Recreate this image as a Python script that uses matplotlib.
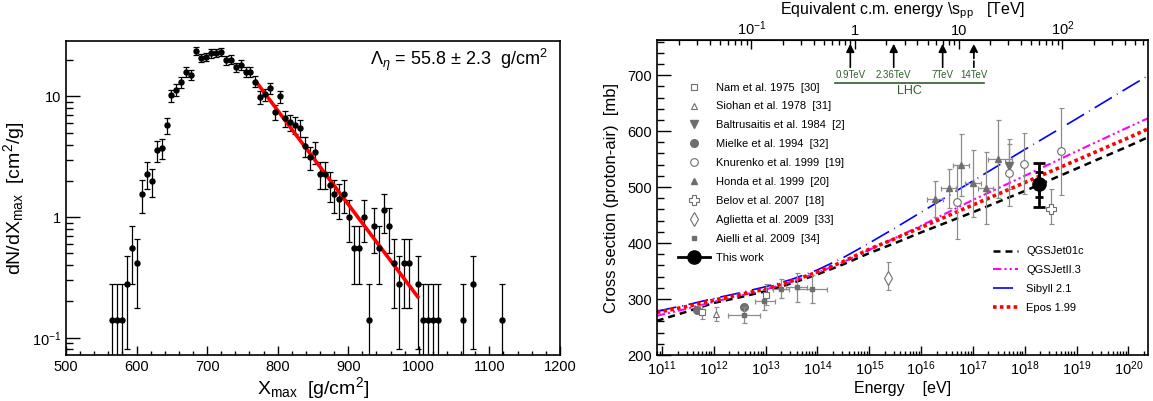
import numpy as np
import matplotlib
matplotlib.use('Agg')
import matplotlib.pyplot as plt
from matplotlib.lines import Line2D
from matplotlib.ticker import (FixedLocator, FixedFormatter, MultipleLocator,
                               LogLocator, NullFormatter)

plt.rcParams['font.family'] = ['Liberation Sans', 'DejaVu Sans']
plt.rcParams['mathtext.fontset'] = 'custom'
plt.rcParams['mathtext.rm'] = 'Liberation Sans'
plt.rcParams['mathtext.it'] = 'Liberation Sans:italic'
plt.rcParams['mathtext.bf'] = 'Liberation Sans:bold'

# ---- left panel: Xmax distribution ----
xmax_bin = [565.5, 572.5, 579.5, 586.5, 593.5, 600.5, 607.5, 614.5, 621.5, 628.5,
            635.5, 642.5, 649.5, 656.5, 663.5, 670.5, 677.5, 684.5, 691.5, 698.5,
            705.5, 712.5, 719.5, 726.5, 733.5, 740.5, 747.5, 754.5, 761.5, 768.5,
            775.5, 782.5, 789.5, 796.5, 803.5, 810.5, 817.5, 824.5, 831.5, 838.5,
            845.5, 852.5, 859.5, 866.5, 873.5, 880.5, 887.5, 894.5, 901.5, 908.5,
            915.5, 922.5, 929.5, 936.5, 943.5, 950.5, 957.5, 964.5, 971.5, 978.5,
            985.5, 999.5, 1006.5, 1013.5, 1020.5, 1027.5, 1062.5, 1076.5, 1118.5]
dndx = [0.14, 0.14, 0.14, 0.28, 0.56, 0.42, 1.56, 2.29, 1.99, 3.58,
        3.74, 5.77, 10.2, 11.4, 13.1, 16.0, 15.2, 24.0, 20.9, 21.3,
        22.8, 23.1, 23.3, 20.1, 20.2, 17.5, 18.3, 16.1, 16.1, 13.3,
        9.85, 10.4, 11.7, 7.4, 10.0, 6.6, 6.1, 5.8, 5.48, 3.91,
        3.15, 3.46, 2.27, 2.29, 1.86, 1.56, 1.42, 1.56, 1.0, 0.56,
        0.56, 1.0, 0.14, 0.85, 0.56, 1.14, 0.85, 0.42, 0.28, 0.42,
        0.42, 0.28, 0.14, 0.14, 0.14, 0.14, 0.14, 0.28, 0.14]
one_event = 0.142  # value of a single event in the histogram
fit_x = [768, 1000]
fit_y = [13.6, 0.213]

# ---- right panel: p-air cross section ----
model_energy = [7.94e10, 3.16e11, 1e12, 3.16e12, 1e13, 3.16e13, 1e14, 3.16e14,
                1e15, 3.16e15, 1e16, 1e17, 1e18, 1e19, 1e20, 2.4e20]
qgsjet01 = [261, 278, 293, 303, 314, 328, 344, 362, 382, 400, 419, 455, 493, 533, 573, 589]
qgsjet2 = [270, 283, 295, 306, 317, 331, 347, 366, 388, 409, 431, 477, 520, 564, 607, 623]
sibyll = [278, 290, 301, 311, 322, 335, 352, 374, 400, 427, 455, 511, 567, 622, 678, 699]
epos = [276, 287, 298, 308, 318, 332, 348, 367, 389, 408, 428, 468, 508, 548, 588, 604]

nam_e = [5.9e11, 1.0e13]
nam_s = [277, 308]
nam_err = [12, 18]
siohan_e = [1.1e12]
siohan_s = [273]
siohan_err = [13]
baltru_e = [5.0e17]
baltru_s = [537]
baltru_err = [40]
mielke_e = [4.8e11, 3.8e12]
mielke_s = [281, 286]
knur_e = [5.0e16, 5.0e17, 9.8e17, 5.0e18]
knur_s = [474, 526, 542, 564]
knur_err = [66, 60, 55, 78]
honda_e = [1.86e16, 3.4e16, 5.9e16, 1.02e17, 1.78e17, 3.1e17]
honda_lo = [1.3e16, 2.4e16, 4.2e16, 7.2e16, 1.26e17, 2.0e17]
honda_hi = [2.6e16, 4.8e16, 8.3e16, 1.45e17, 2.5e17, 5.6e17]
honda_s = [479, 498, 539, 507, 498, 550]
honda_err = [32, 35, 55, 60, 64, 70]
belov_e = [3.2e18]
belov_s = [461]
belov_up = [35]
belov_dn = [27]
aglietta_e = [2.3e15]
aglietta_s = [338]
aglietta_up = [29]
aglietta_dn = [21]
aielli_e = [3.8e12, 9.3e12, 1.95e13, 4.0e13, 7.8e13]
aielli_lo = [1.9e12, 6.2e12, 1.4e13, 2.5e13, 4.0e13]
aielli_hi = [7.8e12, 1.5e13, 2.8e13, 6.3e13, 1.55e14]
aielli_s = [272, 296, 318, 321, 318]
aielli_err = [14, 15, 17, 26, 25]
this_e = [1.85e18]
this_s = [505]
this_stat = [22]
this_up = [38]
this_dn = [40]

lhc_sqrt_s = [0.9, 2.36, 7, 14]
lhc_labels = ['0.9TeV', '2.36TeV', '7TeV', '14TeV']

M_P = 0.938272e9  # eV


def to_sqrt_s(e):
    e = np.clip(np.asarray(e, dtype=float), 1e-30, None)
    return np.sqrt(2 * M_P * e) / 1e12


def to_energy(s):
    s = np.asarray(s, dtype=float)
    return (s * 1e12) ** 2 / (2 * M_P)


fig = plt.figure(figsize=(11.53, 4.01), dpi=100)

# ---------------- left ----------------
ax1 = fig.add_axes([0.0572, 0.1147, 0.4284, 0.7838])
dndx_arr = np.array(dndx)
ax1.errorbar(xmax_bin, dndx_arr, yerr=np.sqrt(dndx_arr * one_event), fmt='o',
             color='black', ms=3.6, elinewidth=0.9, capsize=2, capthick=0.9)
ax1.plot(fit_x, fit_y, color='#ff0000', lw=2.6, solid_capstyle='butt')
ax1.set_yscale('log')
ax1.set_xlim(500, 1200)
ax1.set_ylim(0.072, 29)
ax1.xaxis.set_major_locator(MultipleLocator(100))
ax1.xaxis.set_minor_locator(MultipleLocator(20))
ax1.yaxis.set_major_locator(FixedLocator([0.1, 1, 10]))
ax1.yaxis.set_major_formatter(FixedFormatter(['$10^{-1}$', '1', '10']))
ax1.yaxis.set_minor_locator(LogLocator(base=10, subs=np.arange(2, 10), numticks=20))
ax1.yaxis.set_minor_formatter(NullFormatter())
ax1.tick_params(which='both', direction='in', top=False, right=False, labelsize=10.5)
ax1.tick_params(axis='x', which='major', length=6.5, width=1)
ax1.tick_params(axis='x', which='minor', length=3.2, width=1)
ax1.tick_params(axis='y', which='major', length=10, width=1)
ax1.tick_params(axis='y', which='minor', length=5, width=1)
ax1.set_xlabel(r'X$_{\rm max}$  [g/cm$^{2}$]', fontsize=14, labelpad=1)
ax1.set_ylabel(r'dN/dX$_{\rm max}$  [cm$^{2}$/g]', fontsize=14, labelpad=3)
ax1.text(0.975, 0.94, r'$\Lambda_{\eta}$ = 55.8 $\pm$ 2.3  g/cm$^{2}$',
         transform=ax1.transAxes, ha='right', va='center', fontsize=13)
for sp in ax1.spines.values():
    sp.set_linewidth(1.2)

# ---------------- right ----------------
ax2 = fig.add_axes([0.5696, 0.1147, 0.4261, 0.7845])
ax2.set_xscale('log')
ax2.set_xlim(7.94e10, 2.4e20)
ax2.set_ylim(200, 762)

grey = '#6e6e6e'
egrey = '#8c8c8c'
qgs1_style = dict(color='black', lw=1.8, ls=(0, (2.8, 2)))
qgs2_style = dict(color='#ff00ff', lw=1.5, ls=(0, (4, 1.5, 1, 1.5, 1, 1.5)))
sib_style = dict(color='#0000ff', lw=1.2, ls=(0, (12, 3.5, 0.5, 3.5)))
epos_style = dict(color='#ff0000', lw=2.6, ls=(0, (1, 0.9)))
ax2.plot(model_energy, qgsjet01, **qgs1_style)
ax2.plot(model_energy, qgsjet2, **qgs2_style)
ax2.plot(model_energy, sibyll, **sib_style)
ax2.plot(model_energy, epos, **epos_style)

eb = dict(ecolor=egrey, elinewidth=0.9, capsize=1.8, capthick=0.9, ls='none')
ax2.errorbar(nam_e, nam_s, yerr=nam_err, marker='s', ms=4.5, mfc='white', mec=grey,
             mew=0.8, **eb)
ax2.errorbar(siohan_e, siohan_s, yerr=siohan_err, marker='^', ms=5, mfc='white',
             mec=grey, mew=0.8, **eb)
ax2.errorbar(baltru_e, baltru_s, yerr=baltru_err, marker='v', ms=5.5, mfc=grey,
             mec=grey, **eb)
ax2.plot(mielke_e, mielke_s, ls='none', marker='o', ms=5.5, mfc=grey, mec=grey)
ax2.errorbar(knur_e, knur_s, yerr=knur_err, marker='o', ms=5.5, mfc='white', mec=grey,
             mew=0.8, **eb)
honda_xerr = [np.array(honda_e) - np.array(honda_lo), np.array(honda_hi) - np.array(honda_e)]
ax2.errorbar(honda_e, honda_s, yerr=honda_err, xerr=honda_xerr, marker='^', ms=3.8,
             mfc=grey, mec=grey, **eb)
ax2.errorbar(belov_e, belov_s, yerr=[belov_dn, belov_up], marker='P', ms=6.5,
             mfc='white', mec=grey, mew=0.8, **eb)
ax2.errorbar(aglietta_e, aglietta_s, yerr=[aglietta_dn, aglietta_up], marker='d', ms=7.5,
             mfc='white', mec=grey, mew=0.8, **eb)
aielli_xerr = [np.array(aielli_e) - np.array(aielli_lo), np.array(aielli_hi) - np.array(aielli_e)]
ax2.errorbar(aielli_e, aielli_s, yerr=aielli_err, xerr=aielli_xerr, marker='s', ms=3.5,
             mfc=grey, mec=grey, **eb)
ax2.errorbar(this_e, this_s, yerr=[this_dn, this_up], fmt='o', color='black', ms=9.5,
             elinewidth=2, capsize=4, capthick=2, zorder=5)
ax2.errorbar(this_e, this_s, yerr=this_stat, fmt='none', ecolor='black',
             elinewidth=2, capsize=3, capthick=2, zorder=5)

# LHC energies
green = '#2f5f2a'
for s, lab in zip(lhc_sqrt_s, lhc_labels):
    e = to_energy(s)
    ax2.annotate('', xy=(e, 761), xytext=(e, 709),
                 arrowprops=dict(arrowstyle='-|>', color='black', lw=1.2,
                                 mutation_scale=12,
                                 linestyle='--' if s == 14 else '-'))
    ax2.text(e, 700, lab, ha='center', va='center', fontsize=7, color=green)
ax2.plot([2.2e14, 1.66e17], [686, 686], color=green, lw=1.2)
ax2.text(6.1e15, 671, 'LHC', ha='center', va='center', fontsize=9, color=green)

ax2.xaxis.set_major_locator(LogLocator(base=10, numticks=20))
ax2.xaxis.set_minor_locator(LogLocator(base=10, subs=np.arange(2, 10), numticks=20))
ax2.xaxis.set_minor_formatter(NullFormatter())
ax2.yaxis.set_major_locator(MultipleLocator(100))
ax2.yaxis.set_minor_locator(MultipleLocator(20))
ax2.tick_params(which='both', direction='in', top=False, right=False, labelsize=10.5)
ax2.tick_params(axis='x', which='major', length=6.5, width=1)
ax2.tick_params(axis='x', which='minor', length=3.2, width=1)
ax2.tick_params(axis='y', which='major', length=10, width=1)
ax2.tick_params(axis='y', which='minor', length=5, width=1)
ax2.set_xlabel('Energy    [eV]', fontsize=11.5, labelpad=2)
ax2.set_ylabel('Cross section (proton-air)  [mb]', fontsize=12, labelpad=6)
for sp in ax2.spines.values():
    sp.set_linewidth(1.2)

sec = ax2.secondary_xaxis('top', functions=(to_sqrt_s, to_energy))
sec.xaxis.set_major_locator(FixedLocator([0.1, 1, 10, 100]))
sec.xaxis.set_major_formatter(FixedFormatter(['$10^{-1}$', '1', '10', '$10^{2}$']))
sec.xaxis.set_minor_locator(LogLocator(base=10, subs=np.arange(2, 10), numticks=20))
sec.xaxis.set_minor_formatter(NullFormatter())
sec.tick_params(which='both', direction='in', labelsize=10.5, pad=1.5)
sec.tick_params(which='major', length=6.5, width=1)
sec.tick_params(which='minor', length=3.5, width=1)
sec.set_xlabel(r'Equivalent c.m. energy \s$_{\rm pp}$   [TeV]', fontsize=11.5, labelpad=4)

# legends
data_handles = [
    Line2D([], [], ls='none', marker='s', ms=4.5, mfc='white', mec=grey, mew=0.8),
    Line2D([], [], ls='none', marker='^', ms=5, mfc='white', mec=grey, mew=0.8),
    Line2D([], [], ls='none', marker='v', ms=5.5, mfc=grey, mec=grey),
    Line2D([], [], ls='none', marker='o', ms=5.5, mfc=grey, mec=grey),
    Line2D([], [], ls='none', marker='o', ms=5.5, mfc='white', mec=grey, mew=0.8),
    Line2D([], [], ls='none', marker='^', ms=3.8, mfc=grey, mec=grey),
    Line2D([], [], ls='none', marker='P', ms=6.5, mfc='white', mec=grey, mew=0.8),
    Line2D([], [], ls='none', marker='d', ms=7.5, mfc='white', mec=grey, mew=0.8),
    Line2D([], [], ls='none', marker='s', ms=3.5, mfc=grey, mec=grey),
    Line2D([], [], color='black', lw=2, marker='o', ms=9.5),
]
data_labels = ['Nam et al. 1975  [30]', 'Siohan et al. 1978  [31]',
               'Baltrusaitis et al. 1984  [2]', 'Mielke et al. 1994  [32]',
               'Knurenko et al. 1999  [19]', 'Honda et al. 1999  [20]',
               'Belov et al. 2007  [18]', 'Aglietta et al. 2009  [33]',
               'Aielli et al. 2009  [34]', 'This work']
leg1 = ax2.legend(data_handles, data_labels, loc='upper left',
                  bbox_to_anchor=(0.043, 0.866), frameon=False, fontsize=8,
                  handlelength=2.9, handletextpad=0.55, labelspacing=0.8,
                  borderpad=0, borderaxespad=0)
ax2.add_artist(leg1)

model_handles = [Line2D([], [], **qgs1_style), Line2D([], [], **qgs2_style),
                 Line2D([], [], **sib_style), Line2D([], [], **epos_style)]
model_labels = ['QGSJet01c', 'QGSJetII.3', 'Sibyll 2.1', 'Epos 1.99']
ax2.legend(model_handles, model_labels, loc='upper left',
           bbox_to_anchor=(0.6845, 0.345), frameon=False, fontsize=8,
           handlelength=2.25, handletextpad=0.72, labelspacing=0.8,
           borderpad=0, borderaxespad=0)

fig.savefig('out.png', dpi=100)
